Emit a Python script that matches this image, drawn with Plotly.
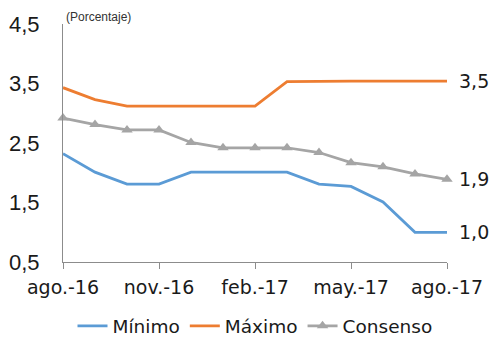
import plotly.graph_objects as go

months = ["ago.-16", "sep.-16", "oct.-16", "nov.-16", "dic.-16", "ene.-17", "feb.-17",
          "mar.-17", "abr.-17", "may.-17", "jun.-17", "jul.-17", "ago.-17"]
minimo = [2.32, 2.01, 1.81, 1.81, 2.01, 2.01, 2.01, 2.01, 1.81, 1.77, 1.51, 1.0, 1.0]
maximo = [3.43, 3.23, 3.12, 3.12, 3.12, 3.12, 3.12, 3.53, 3.54, 3.54, 3.54, 3.54, 3.54]
consenso = [2.92, 2.81, 2.72, 2.72, 2.51, 2.42, 2.42, 2.42, 2.34, 2.17, 2.1, 1.98, 1.89]
tick_months = ["ago.-16", "nov.-16", "feb.-17", "may.-17", "ago.-17"]
y_ticks = [0.5, 1.5, 2.5, 3.5, 4.5]

x = list(range(len(months)))
tick_pos = [months.index(m) for m in tick_months]

BLUE, ORANGE, GRAY = "#5B9BD5", "#ED7D31", "#A5A5A5"
SANS = "DejaVu Sans"

fig = go.Figure()
fig.add_trace(go.Scatter(x=x, y=minimo, name="Mínimo", mode="lines",
                         line=dict(color=BLUE, width=2.75), cliponaxis=False))
fig.add_trace(go.Scatter(x=x, y=maximo, name="Máximo", mode="lines",
                         line=dict(color=ORANGE, width=2.75), cliponaxis=False))
fig.add_trace(go.Scatter(x=x, y=consenso, name="Consenso", mode="lines+markers",
                         line=dict(color=GRAY, width=2.75),
                         marker=dict(symbol="triangle-up", size=10, color=GRAY),
                         cliponaxis=False))

# value labels at the last point of each series
for series in (maximo, consenso, minimo):
    v = series[-1]
    fig.add_annotation(x=x[-1], y=v, text=f"{v:.1f}".replace(".", ","),
                       xanchor="left", yanchor="middle", xshift=10, showarrow=False,
                       font=dict(family=SANS, size=19, color="#1a1a1a"))

fig.add_annotation(x=0, y=1, xref="paper", yref="paper", text="(Porcentaje)",
                   xanchor="left", yanchor="bottom", yshift=-2, xshift=1, showarrow=False,
                   font=dict(family="Liberation Sans", size=12, color="#333"))

fig.update_layout(
    width=492, height=339,
    margin=dict(l=63, r=45, t=24, b=77, autoexpand=False),
    plot_bgcolor="white", paper_bgcolor="white",
    separators=",.",
    showlegend=True,
    legend=dict(orientation="h", x=0.5, xanchor="center", y=-0.27, yanchor="middle",
                font=dict(family=SANS, size=18.5, color="#1a1a1a"),
                itemwidth=30, tracegroupgap=0),
    xaxis=dict(range=[0, 12], tickvals=tick_pos, ticktext=tick_months,
               showgrid=False, zeroline=False, showline=True, linecolor="#8c8c8c",
               linewidth=1, ticks="outside", ticklen=6, tickcolor="#8c8c8c",
               ticklabelstandoff=2,
               tickfont=dict(family=SANS, size=19, color="#1a1a1a")),
    yaxis=dict(range=[0.5, 4.5], tickvals=y_ticks, tickformat=".1f",
               showgrid=False, zeroline=False, showline=True, linecolor="#8c8c8c",
               linewidth=1, ticks="", ticklabelstandoff=18,
               tickfont=dict(family="Liberation Sans", size=22, color="#1a1a1a")),
)

fig.write_html("out.html")
